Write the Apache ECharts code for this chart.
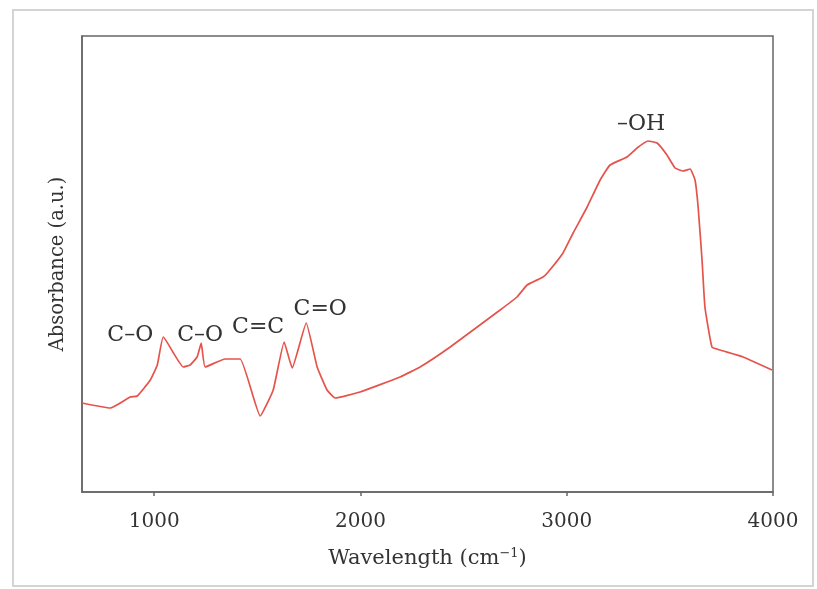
<!DOCTYPE html>
<html>
<head>
<meta charset="utf-8">
<script src="https://cdn.jsdelivr.net/npm/echarts@6/dist/echarts.min.js"></script>
<style>html,body{margin:0;padding:0;background:#fff}#c{width:817px;height:589px}</style>
</head>
<body>
<div id="c"></div>
<script>
// Wavenumber (cm^-1)
const wavenumbers = [650, 787, 884, 918, 981, 1015, 1044, 1141, 1174, 1208, 1228, 1247, 1344, 1417, 1514, 1577, 1630, 1669, 1737, 1790, 1838, 1877, 1998, 2192, 2289, 2435, 2677, 2759, 2808, 2885, 2910, 2982, 3031, 3099, 3162, 3210, 3292, 3341, 3394, 3438, 3486, 3525, 3564, 3598, 3622, 3637, 3656, 3670, 3704, 3743, 3855, 3995];
// Absorbance (a.u.)
const absorbance = [89, 84, 95, 96, 112, 127, 155, 125, 127, 135, 149, 125, 133, 133, 76, 102, 150, 124, 169, 125, 102, 94, 100, 115, 125, 145, 182, 195, 207, 215, 220, 239, 259, 285, 312, 327, 335, 344, 351, 349, 337, 324, 321, 323, 312, 285, 232, 185, 145, 142, 135, 122];
const xTicks = [1000, 2000, 3000, 4000];
const annotations = [
  {text: 'C–O', x: 884, y: 157},
  {text: 'C–O', x: 1223, y: 157},
  {text: 'C=C', x: 1504, y: 165},
  {text: 'C=O', x: 1805, y: 183},
  {text: '–OH', x: 3360, y: 368}
];

const FONT = 'DejaVu Serif';
const chart = echarts.init(document.getElementById('c'), null, {renderer: 'canvas'});
chart.setOption({
  animation: false,
  backgroundColor: '#fff',
  graphic: [{
    type: 'rect', shape: {x: 13, y: 10, width: 800, height: 576},
    style: {fill: 'none', stroke: '#d4d4d4', lineWidth: 2}, z: -1
  }],
  grid: {left: 82, top: 36, right: 44, bottom: 97, show: true, borderColor: '#666', borderWidth: 1.5, backgroundColor: 'transparent'},
  xAxis: {
    type: 'value', min: 650, max: 4000,
    name: 'Wavelength (cm{sup|−1})',
    nameLocation: 'middle', nameGap: 55,
    nameTextStyle: {fontFamily: FONT, fontSize: 21, color: '#333',
      rich: {sup: {fontFamily: FONT, fontSize: 13, color: '#333', verticalAlign: 'top', padding: [0, 0, 11, 0]}}},
    axisLine: {show: true, lineStyle: {color: '#666', width: 1.5}},
    axisTick: {show: true, inside: false, length: 4, customValues: xTicks, lineStyle: {color: '#666', width: 1.5}},
    axisLabel: {customValues: xTicks, formatter: v => String(v), fontFamily: FONT, fontSize: 20, color: '#333', margin: 20},
    splitLine: {show: false}
  },
  yAxis: {
    type: 'value', min: 0, max: 456,
    name: 'Absorbance (a.u.)', nameLocation: 'middle', nameGap: 14,
    nameTextStyle: {fontFamily: FONT, fontSize: 19.5, color: '#333'},
    axisLine: {show: true, lineStyle: {color: '#666', width: 1.5}},
    axisTick: {show: false}, axisLabel: {show: false}, splitLine: {show: false}
  },
  series: [{
    type: 'line',
    data: wavenumbers.map((w, i) => [w, absorbance[i]]),
    showSymbol: false, smooth: 0.12,
    lineStyle: {color: '#e5534b', width: 1.7},
    markPoint: {
      symbol: 'circle', symbolSize: 0,
      label: {show: true, position: 'inside', fontFamily: FONT, fontSize: 22, color: '#333',
        formatter: p => p.name},
      data: annotations.map(a => ({name: a.text, coord: [a.x, a.y]}))
    }
  }]
});
</script>
</body>
</html>
